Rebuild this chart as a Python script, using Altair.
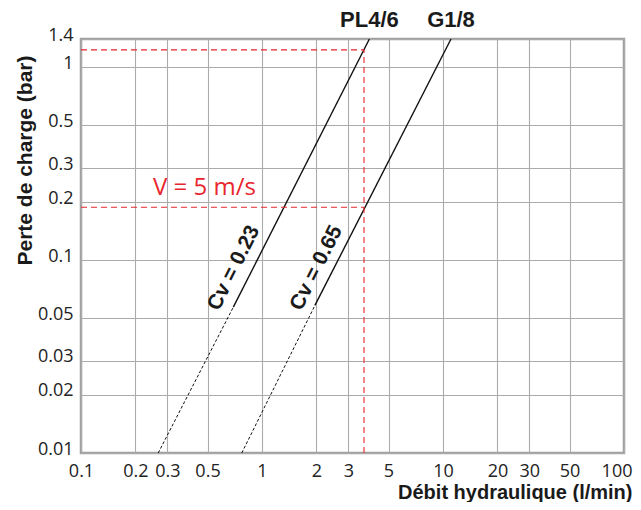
import altair as alt
import pandas as pd

# ---- data ----
x_ticks = [0.1, 0.2, 0.3, 0.5, 1, 2, 3, 5, 10, 20, 30, 50, 100]
y_ticks = [0.01, 0.02, 0.03, 0.05, 0.1, 0.2, 0.3, 0.5, 1, 1.4]

series = ["PL4/6", "G1/8"]
cv_labels = ["Cv = 0.23", "Cv = 0.65"]
solid_q = [[0.694, 3.92], [1.96, 11.07]]
solid_p = [[0.057, 1.4], [0.0582, 1.4]]
dashed_q = [[0.267, 0.694], [0.773, 1.96]]
dashed_p = [[0.01, 0.057], [0.01, 0.0582]]
top_q = [3.92, 11.07]
top_p = [1.4, 1.4]
cv_q = [0.70, 2.0]
cv_p = [0.091, 0.091]

v_flow = 3.66
v_pressures = [1.23, 0.188]
v_label = "V = 5 m/s"
v_label_q = 0.25
v_label_p = 0.188

solid_df = pd.DataFrame(
    [{"s": s, "q": q, "p": p} for s, qs, ps in zip(series, solid_q, solid_p) for q, p in zip(qs, ps)]
)
dashed_df = pd.DataFrame(
    [{"s": s, "q": q, "p": p} for s, qs, ps in zip(series, dashed_q, dashed_p) for q, p in zip(qs, ps)]
)
hrule_df = pd.DataFrame({"q": [x_ticks[0]] * len(v_pressures), "q2": [v_flow] * len(v_pressures), "p": v_pressures})
vrule_df = pd.DataFrame({"q": [v_flow], "p": [y_ticks[0]], "p2": [max(v_pressures)]})
cv_df = pd.DataFrame({"t": cv_labels, "q": cv_q, "p": cv_p})
top_df = pd.DataFrame({"t": series, "q": top_q, "p": top_p})
v_df = pd.DataFrame({"t": [v_label], "q": [v_label_q], "p": [v_label_p]})

xscale = alt.Scale(type="log", domain=[x_ticks[0], x_ticks[-1]], nice=False)
yscale = alt.Scale(type="log", domain=[y_ticks[0], y_ticks[-1]], nice=False)

last_test = "datum.value >= %g" % x_ticks[-1]
xaxis = alt.Axis(
    values=x_ticks, labelExpr="format(datum.value, '~g')", title="Débit hydraulique (l/min)",
    grid=True, ticks=False, tickSize=0, domain=False, labelPadding=9, labelFlush=False,
    labelOverlap=False,
    labelAlign={"condition": {"test": last_test, "value": "right"}, "value": "center"},
    labelOffset={"condition": {"test": last_test, "value": 8}, "value": 0},
    titleAnchor="end", titleAlign="right", titleBaseline="alphabetic",
    titleX=551, titleY=45, titleFontSize=20,
)
yaxis = alt.Axis(
    values=y_ticks, labelExpr="format(datum.value, '~g')", title="Perte de charge (bar)",
    grid=True, ticks=False, tickSize=0, domain=False, labelPadding=8, labelFlush=False,
    labelOverlap=False, labelOffset=-4, titleAlign="center", titleBaseline="alphabetic",
    titleX=-50, titleY=121, titleAngle=270,
)

solid = alt.Chart(solid_df).mark_line(color="#111111", strokeWidth=1.4).encode(
    x=alt.X("q:Q", scale=xscale, axis=xaxis),
    y=alt.Y("p:Q", scale=yscale, axis=yaxis),
    detail="s:N",
)
dashed = alt.Chart(dashed_df).mark_line(color="#111111", strokeWidth=1, strokeDash=[3, 2]).encode(
    x="q:Q", y="p:Q", detail="s:N"
)
hrules = alt.Chart(hrule_df).mark_rule(color="#e8262e", strokeWidth=1.1, strokeDash=[6, 4]).encode(
    x="q:Q", x2="q2:Q", y="p:Q"
)
vrule = alt.Chart(vrule_df).mark_rule(color="#e8262e", strokeWidth=1.1, strokeDash=[6, 4]).encode(
    x="q:Q", y="p:Q", y2="p2:Q"
)
cv_text = alt.Chart(cv_df).mark_text(
    font="Liberation Sans", fontWeight="bold", fontSize=21, angle=296.6,
    align="center", baseline="middle", color="#1a1a1a",
).encode(x="q:Q", y="p:Q", text="t:N")
top_text = alt.Chart(top_df).mark_text(
    font="Liberation Sans", fontWeight="bold", fontSize=22, align="center",
    baseline="middle", dy=-19, color="#1a1a1a",
).encode(x="q:Q", y="p:Q", text="t:N")
v_text = alt.Chart(v_df).mark_text(
    font="Open Sans", fontSize=24, align="left", baseline="alphabetic", dy=-12, color="#e8262e",
).encode(x="q:Q", y="p:Q", text="t:N")

chart = (
    alt.layer(solid, dashed, hrules, vrule, cv_text, top_text, v_text)
    .properties(
        width=543, height=414,
        autosize=alt.AutoSizeParams(type="none"),
        padding={"left": 73, "top": 31, "right": 9, "bottom": 49},
        background="white",
    )
    .configure_view(stroke="#a0a0a0", strokeWidth=2.5)
    .configure_axis(
        gridColor="#ababab", gridWidth=1.1, gridOpacity=1,
        labelFont="Open Sans", labelFontSize=18, labelColor="#222222",
        titleFont="Liberation Sans", titleFontWeight="bold", titleFontSize=21, titleColor="#1a1a1a",
    )
)

chart.save("out.html", embed_options={"renderer": "svg", "actions": False})
